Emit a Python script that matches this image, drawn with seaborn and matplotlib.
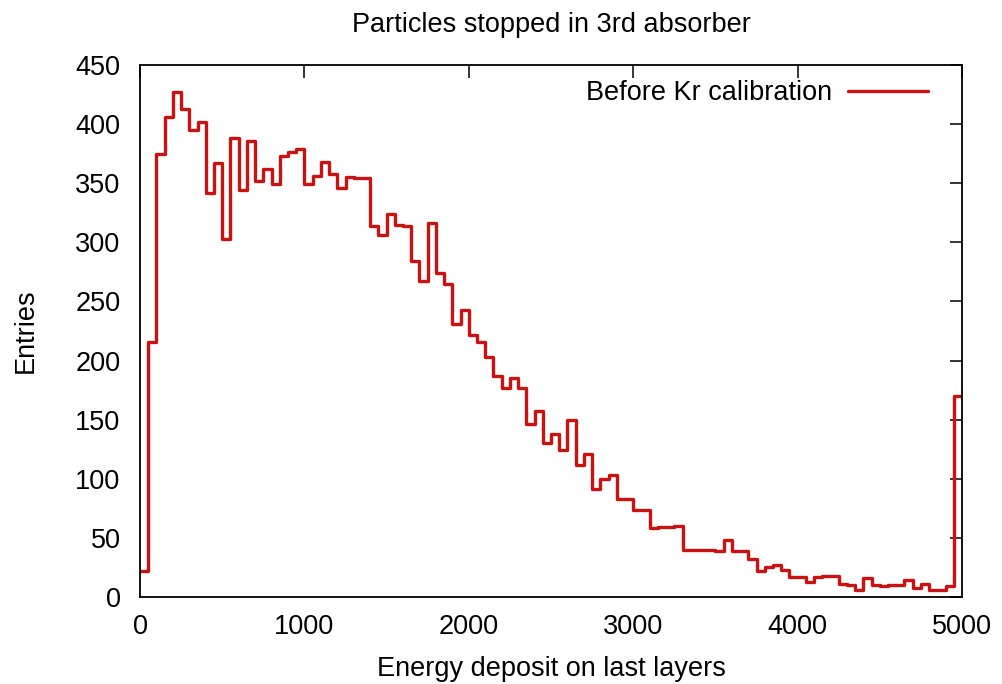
import numpy as np
import pandas as pd
import matplotlib
matplotlib.use("Agg")
import matplotlib.pyplot as plt
import seaborn as sns

# ---- data ----
bin_width = 50
x_min, x_max = 0, 5000
counts = [
    22, 216, 375, 406, 427, 413, 395, 402, 342, 367,
    303, 388, 344, 386, 352, 362, 349, 373, 376, 379,
    349, 356, 368, 358, 346, 355, 354, 354, 314, 306,
    324, 315, 314, 284, 267, 316, 274, 265, 231, 243,
    222, 216, 203, 187, 177, 185, 177, 146, 157, 130,
    138, 124, 150, 112, 121, 91, 100, 103, 83, 83,
    74, 74, 58, 59, 59, 60, 40, 40, 40, 40,
    39, 48, 39, 39, 32, 22, 25, 27, 23, 17,
    17, 13, 17, 18, 18, 11, 10, 6, 16, 10,
    9, 10, 10, 14, 8, 11, 6, 6, 9, 170,
]
x_ticks = [0, 1000, 2000, 3000, 4000, 5000]
y_ticks = [0, 50, 100, 150, 200, 250, 300, 350, 400, 450]
title = "Particles stopped in 3rd absorber"
x_label = "Energy deposit on last layers"
y_label = "Entries"
series_label = "Before Kr calibration"

edges = np.arange(x_min, x_max + bin_width, bin_width)
centers = edges[:-1] + bin_width / 2
df = pd.DataFrame({"energy": centers, "entries": counts})

sns.set_theme(style="white")
plt.rcParams["font.family"] = ["Liberation Sans", "DejaVu Sans"]

FS = 19.5
RED = "#cc1111"

fig = plt.figure(figsize=(10.02, 6.84), dpi=100)
ax = fig.add_axes([140 / 1002, 87 / 684, 822 / 1002, 532 / 684])

sns.histplot(data=df, x="energy", weights="entries",
             binwidth=bin_width, binrange=(x_min, x_max),
             element="step", fill=False, color=RED, linewidth=2.4,
             label=series_label, ax=ax)

ax.set_xlim(x_min, x_max)
ax.set_ylim(0, 450)
ax.set_xticks(x_ticks)
ax.set_yticks(y_ticks)
ax.tick_params(direction="in", length=9, width=1.1, color="black",
               labelsize=FS, top=True, right=True, pad=12,
               labelcolor="black")
ax.tick_params(axis="y", pad=14)
for s in ax.spines.values():
    s.set_color("black")
    s.set_linewidth(1.3)

ax.set_xlabel(x_label, fontsize=FS, labelpad=12, color="black")
ax.set_ylabel(y_label, fontsize=FS, labelpad=26, color="black")
ax.set_title(title, fontsize=FS, pad=24, color="black")

leg = ax.legend(handles=[plt.Line2D([], [], color=RED, lw=2.4)],
                labels=[series_label], loc="upper right", frameon=False,
                markerfirst=False, fontsize=FS, handlelength=2.95,
                handletextpad=0.6, borderaxespad=0, borderpad=0,
                bbox_to_anchor=(1 - 34 / 822, 1 - 15 / 532),
                labelcolor="black")

fig.savefig("out.png", dpi=100)
